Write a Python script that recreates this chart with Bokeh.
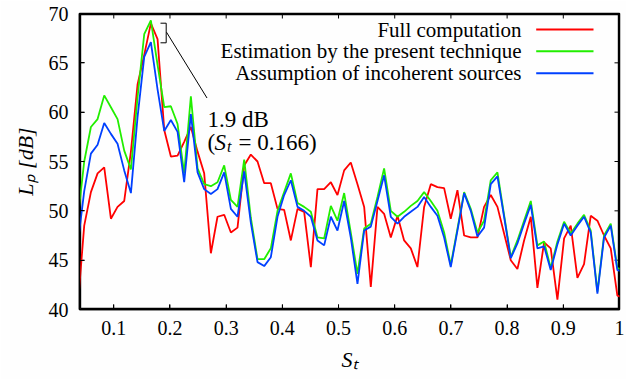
from bokeh.plotting import figure
from bokeh.models import Range1d, FixedTicker, Label
from bokeh.embed import file_html
from bokeh.resources import INLINE

# ---------------- data ----------------
st = [0.0356, 0.0474, 0.0593, 0.0712, 0.0830, 0.0949, 0.1067, 0.1186, 0.1305, 0.1423,
      0.1542, 0.1660, 0.1779, 0.1898, 0.2016, 0.2135, 0.2253, 0.2372, 0.2491, 0.2609,
      0.2728, 0.2846, 0.2965, 0.3084, 0.3202, 0.3321, 0.3439, 0.3558, 0.3677, 0.3795,
      0.3914, 0.4032, 0.4151, 0.4270, 0.4388, 0.4507, 0.4625, 0.4744, 0.4863, 0.4981,
      0.5100, 0.5218, 0.5337, 0.5456, 0.5574, 0.5693, 0.5811, 0.5930, 0.6049, 0.6167,
      0.6286, 0.6404, 0.6523, 0.6642, 0.6760, 0.6879, 0.6997, 0.7116, 0.7235, 0.7353,
      0.7472, 0.7590, 0.7709, 0.7828, 0.7946, 0.8065, 0.8183, 0.8302, 0.8421, 0.8539,
      0.8658, 0.8776, 0.8895, 0.9014, 0.9132, 0.9251, 0.9369, 0.9488, 0.9607, 0.9725,
      0.9844, 0.9962, 1.0081]

full = [40.1, 48.5, 51.9, 53.8, 54.4, 49.2, 50.4, 51.0, 56.0, 62.8,
        65.8, 69.0, 67.4, 58.2, 55.5, 55.6, 57.0, 58.5, 56.0, 53.8,
        45.7, 49.4, 49.6, 47.8, 48.3, 54.6, 55.7, 55.0, 52.8, 52.8,
        50.2, 50.1, 47.0, 50.2, 49.9, 44.3, 52.2, 52.2, 52.9, 51.6,
        54.1, 54.9, 52.7, 50.4, 42.3, 50.4, 49.7, 47.3, 49.5, 47.0,
        46.2, 44.3, 50.4, 52.7, 52.4, 52.3, 49.2, 52.1, 47.5, 47.3,
        47.3, 50.4, 51.6, 50.4, 47.7, 45.0, 44.1, 47.0, 49.4, 42.2,
        46.8, 46.2, 41.0, 47.2, 48.5, 43.2, 44.6, 49.5, 49.0, 47.5,
        46.2, 41.4, 41.2]

estimation = [49.0, 55.0, 58.5, 59.3, 61.7, 60.5, 59.3, 56.1, 54.2, 61.5,
              67.9, 69.3, 64.8, 60.5, 60.6, 58.8, 53.8, 61.6, 54.3, 52.7,
              52.5, 52.9, 54.6, 51.1, 50.4, 55.2, 49.3, 45.1, 45.1, 46.2,
              50.0, 51.9, 53.8, 50.8, 50.4, 49.9, 47.3, 47.2, 50.5, 49.0,
              51.8, 47.8, 43.6, 48.2, 48.7, 51.4, 54.3, 50.0, 49.4, 49.9,
              50.5, 51.0, 51.9, 51.0, 50.0, 47.8, 44.5, 48.2, 51.9, 50.2,
              47.8, 49.0, 53.1, 53.9, 49.6, 45.3, 47.0, 49.0, 51.0, 46.5,
              46.9, 44.2, 46.9, 48.9, 47.7, 48.7, 49.6, 48.0, 41.8, 47.5,
              48.7, 44.2, 44.0]

incoherent = [46.5, 52.0, 55.8, 56.7, 58.9, 57.8, 56.8, 54.1, 51.8, 59.5,
              65.6, 67.1, 62.3, 58.1, 59.2, 58.0, 52.9, 59.8, 53.9, 52.2,
              51.7, 52.2, 53.9, 50.2, 49.4, 54.0, 48.8, 44.8, 44.4, 45.3,
              49.4, 51.6, 53.1, 50.4, 50.0, 49.4, 47.0, 46.5, 49.4, 48.0,
              51.0, 47.3, 42.6, 48.0, 48.4, 51.0, 53.6, 49.4, 48.7, 49.4,
              49.9, 50.4, 51.4, 50.4, 49.5, 47.3, 44.3, 48.0, 51.8, 50.0,
              47.4, 48.3, 52.7, 53.5, 49.4, 45.2, 46.7, 48.7, 50.6, 46.2,
              46.4, 44.0, 46.6, 48.7, 47.5, 48.5, 49.4, 47.8, 41.6, 47.3,
              48.5, 44.0, 43.8]

series_names = ["Full computation",
                "Estimation by the present technique",
                "Assumption of incoherent sources"]
series_colors = ["#ff0000", "#22ee00", "#0040ff"]

x_ticks = [0.1, 0.2, 0.3, 0.4, 0.5, 0.6, 0.7, 0.8, 0.9, 1.0]
y_ticks = [40, 45, 50, 55, 60, 65, 70]
x_title = "S\u209c"          # S_t
y_title = "L\u209a [dB]"     # L_p [dB]
XMIN, XMAX = 0.039, 1.0
YMIN, YMAX = 40, 70

# ---------------- layout helpers (canvas px -> data) ----------------
W, H = 626, 379
FL, FR, FT, FB = 79.0, 619.0, 13.0, 309.0


def X(px):
    return XMIN + (px - FL) * (XMAX - XMIN) / (FR - FL)


def Y(py):
    return YMAX - (py - FT) * (YMAX - YMIN) / (FB - FT)


DX = (XMAX - XMIN) / (FR - FL)   # data per px
DY = (YMAX - YMIN) / (FB - FT)
TICK = 5                         # inward tick length, px
INSET = 0.9                      # frame line inset, px

SERIF = "Liberation Serif"

p = figure(width=W, height=H,
           x_range=Range1d(XMIN, XMAX), y_range=Range1d(YMIN, YMAX),
           output_backend="svg", toolbar_location=None,
           min_border_left=int(FL), min_border_right=int(W - FR),
           min_border_top=int(FT), min_border_bottom=int(H - FB))
p.grid.visible = False
p.outline_line_color = "black"
p.outline_line_width = 1.5
p.background_fill_color = "#fefefe"
p.border_fill_color = "#fefefe"

p.xaxis.ticker = FixedTicker(ticks=x_ticks)
p.xaxis.major_label_overrides = {1: "1"}
p.yaxis.ticker = FixedTicker(ticks=y_ticks)
p.axis.axis_line_color = "black"
p.axis.axis_line_width = 1.5
p.axis.major_tick_in = TICK
p.axis.major_tick_out = 0
p.axis.major_tick_line_color = "black"
p.axis.major_label_text_font = SERIF
p.axis.major_label_text_font_size = "20px"
p.axis.major_label_text_color = "black"
p.axis.major_label_standoff = 11

p.xaxis.axis_label = x_title
p.yaxis.axis_label = y_title
p.axis.axis_label_text_font = SERIF
p.axis.axis_label_text_font_size = "22px"
p.axis.axis_label_text_font_style = "italic"
p.axis.axis_label_text_color = "black"
p.xaxis.axis_label_standoff = 9
p.yaxis.axis_label_standoff = 8

# frame border, drawn just inside the plotting area
x_in0, x_in1 = XMIN + INSET * DX, XMAX - INSET * DX
y_in0, y_in1 = YMIN + INSET * DY, YMAX - INSET * DY
p.line([x_in0, x_in1, x_in1, x_in0, x_in0], [y_in0, y_in0, y_in1, y_in1, y_in0],
       line_color="black", line_width=1.6)

# inward ticks on all four frame edges (gnuplot style, mirrored)
for t in x_ticks:
    p.line([t, t], [YMIN, YMIN + TICK * DY], line_color="black", line_width=1)
    p.line([t, t], [YMAX, YMAX - TICK * DY], line_color="black", line_width=1)
for t in y_ticks:
    p.line([XMIN, XMIN + TICK * DX], [t, t], line_color="black", line_width=1)
    p.line([XMAX, XMAX - TICK * DX], [t, t], line_color="black", line_width=1)

# ---------------- series ----------------
for ys, col in zip([full, estimation, incoherent], series_colors):
    p.line(st, ys, line_color=col, line_width=1.8)

# ---------------- legend (gnuplot style: text then sample) ----------------
rows_py = [29.0, 50.7, 72.7]
for name, col, py in zip(series_names, series_colors, rows_py):
    p.add_layout(Label(x=X(521), y=Y(py), text=name, text_font=SERIF,
                       text_font_size="21px", text_align="right",
                       text_baseline="middle", text_color="black"))
    p.line([X(535.7), X(593)], [Y(py), Y(py)], line_color=col, line_width=2)

# ---------------- annotation ----------------
p.line([X(160), X(165.7), X(165.7), X(160)],
       [Y(22.7), Y(22.7), Y(42.3), Y(42.3)], line_color="black", line_width=1)
p.line([X(166), X(206.5)], [Y(31.7), Y(97.5)], line_color="black", line_width=1)


def lab(px, py, text, size, italic=False):
    p.add_layout(Label(x=X(px), y=Y(py), text=text, text_font=SERIF,
                       text_font_style="italic" if italic else "normal",
                       text_font_size=size, text_align="left",
                       text_baseline="alphabetic", text_color="black"))


lab(207, 119, "1.9 dB", "23px")
lab(207, 142, "(", "23px")
lab(214, 142, "S", "23px", italic=True)
lab(226.5, 146, "t", "16px", italic=True)
lab(238, 142, "= 0.166)", "23px")

open("out.html", "w").write(file_html(p, INLINE))
